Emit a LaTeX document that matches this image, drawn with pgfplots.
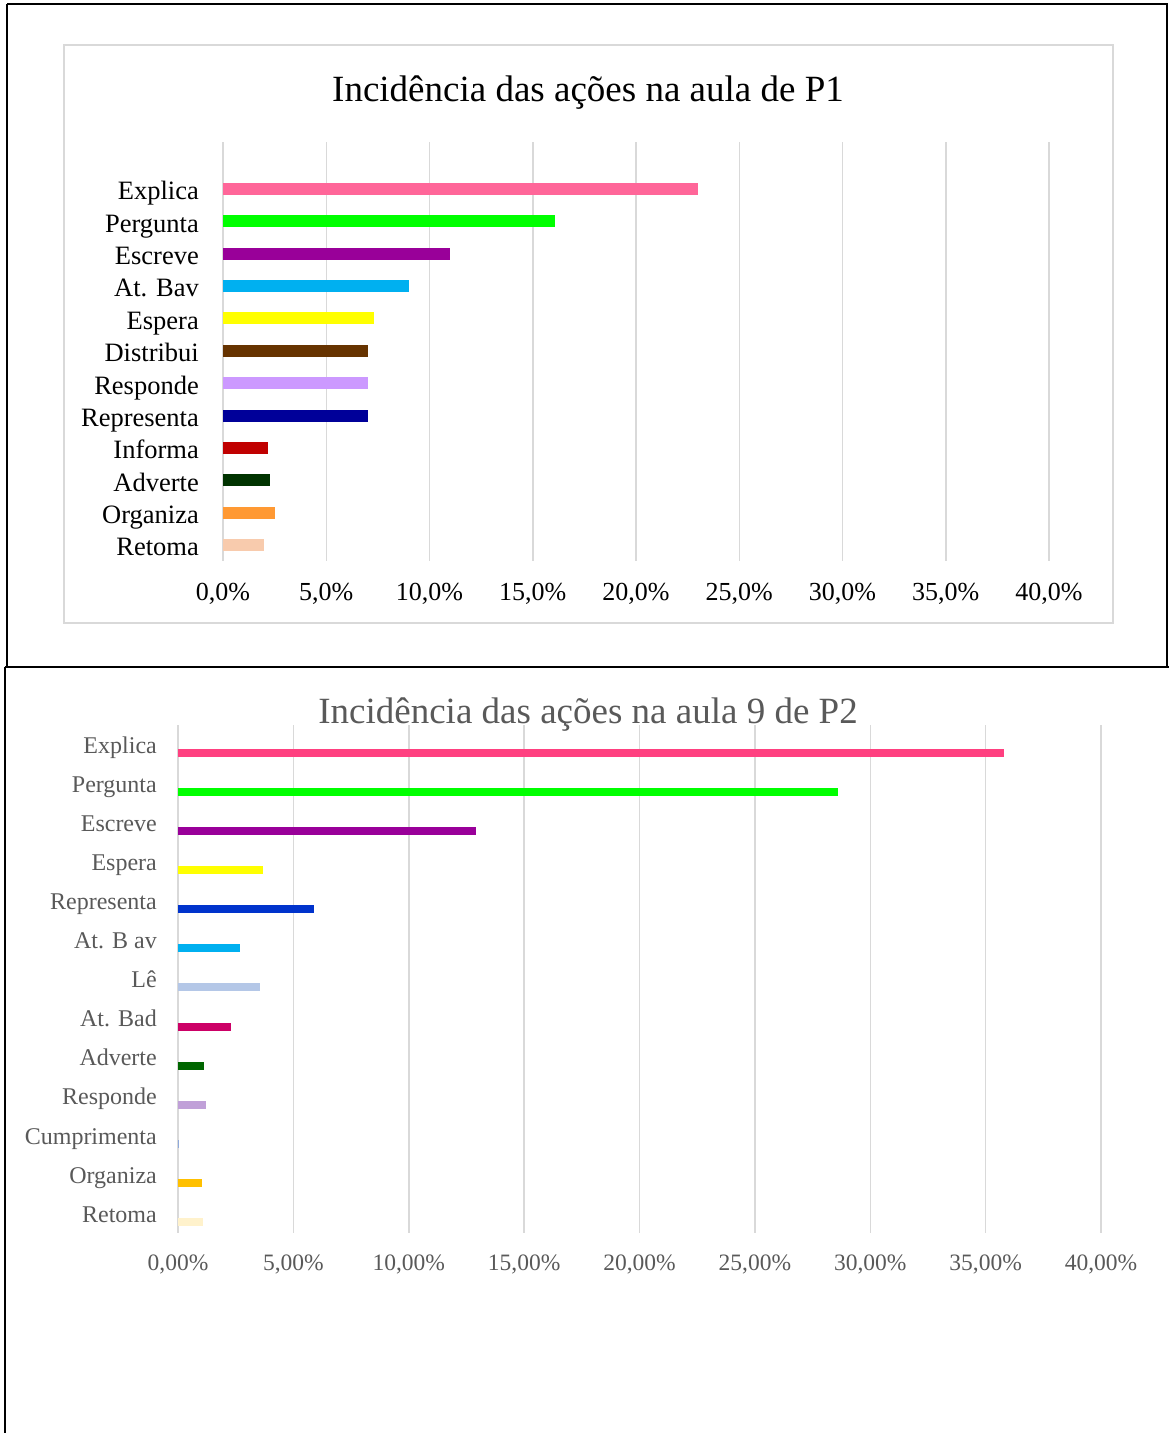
\documentclass[border=0pt]{standalone}
\usepackage{pgfplots}
\pgfplotsset{compat=1.18}
\usepackage{fontspec}
\setmainfont{Liberation Serif}
\newcommand\fs[1]{\fontsize{#1bp}{#1bp}\selectfont}
\definecolor{gridc}{HTML}{D9D9D9}
\definecolor{txtg}{HTML}{595959}
% top colours
\definecolor{t1}{HTML}{FF6699}
\definecolor{t2}{HTML}{00FF00}
\definecolor{t3}{HTML}{990099}
\definecolor{t4}{HTML}{00B0F0}
\definecolor{t5}{HTML}{FFFF00}
\definecolor{t6}{HTML}{663300}
\definecolor{t7}{HTML}{CC99FF}
\definecolor{t8}{HTML}{000099}
\definecolor{t9}{HTML}{C00000}
\definecolor{t10}{HTML}{003300}
\definecolor{t11}{HTML}{FF9933}
\definecolor{t12}{HTML}{F8CBAD}
% bottom colours
\definecolor{b1}{HTML}{FF4080}
\definecolor{b2}{HTML}{00FF00}
\definecolor{b3}{HTML}{990099}
\definecolor{b4}{HTML}{FFFF00}
\definecolor{b5}{HTML}{0033CC}
\definecolor{b6}{HTML}{00B0F0}
\definecolor{b7}{HTML}{B4C7E7}
\definecolor{b8}{HTML}{CC0066}
\definecolor{b9}{HTML}{006600}
\definecolor{b10}{HTML}{C0A0D8}
\definecolor{b11}{HTML}{8EA9DB}
\definecolor{b12}{HTML}{FFC000}
\definecolor{b13}{HTML}{FFF2CC}
\begin{document}
\begin{tikzpicture}
\path[use as bounding box] (0,0) rectangle (1169bp,1433bp);
% frames
\draw[line width=2.5bp] (7bp,1429bp) -- (1167bp,1429bp) -- (1167bp,766bp);
\draw[line width=2.5bp] (7bp,1429bp) -- (7bp,766bp);
\draw[line width=2.5bp] (5bp,766bp) -- (1169bp,766bp);
\draw[line width=2.5bp] (5bp,766bp) -- (5bp,0bp);
\draw[gridc, line width=1.5bp] (64bp,1388bp) rectangle (1113bp,810bp);
% titles
\node[anchor=base, inner sep=0pt] at (588bp,1331bp) {\fs{37}Incidência das ações na aula de P1};
\node[anchor=base, inner sep=0pt, text=txtg] at (588bp,709bp) {\fs{37}Incidência das ações na aula 9 de P2};

% ---------------- top chart
\begin{axis}[
  at={(223bp,872bp)}, anchor=south west,
  scale only axis, width=826bp, height=419bp,
  xmin=0, xmax=40, ymin=-0.49, ymax=12.45,
  xtick={0,5,...,40},
  xticklabels={{0,0\%},{5,0\%},{10,0\%},{15,0\%},{20,0\%},{25,0\%},{30,0\%},{35,0\%},{40,0\%}},
  ytick={0,...,11},
  yticklabels={Retoma,Organiza,Adverte,Informa,Representa,Responde,Distribui,Espera,{At. Bav},Escreve,Pergunta,Explica},
  xmajorgrids, grid style={gridc, line width=1.5bp},
  axis line style={draw=none}, major tick length=0pt,
  xticklabel style={font=\fs{26}, anchor=base, inner sep=0pt, yshift=-40bp},
  yticklabel style={font=\fs{26.5}, anchor=base east, inner sep=0pt, xshift=-24bp, yshift=-10.8bp},
  clip=false,
]
\addplot[xbar, fill=t1, draw=none, bar width=12bp, bar shift=0pt] coordinates {(23.0,11)};
\addplot[xbar, fill=t2, draw=none, bar width=12bp, bar shift=0pt] coordinates {(16.1,10)};
\addplot[xbar, fill=t3, draw=none, bar width=12bp, bar shift=0pt] coordinates {(11.0,9)};
\addplot[xbar, fill=t4, draw=none, bar width=12bp, bar shift=0pt] coordinates {(9.0,8)};
\addplot[xbar, fill=t5, draw=none, bar width=12bp, bar shift=0pt] coordinates {(7.3,7)};
\addplot[xbar, fill=t6, draw=none, bar width=12bp, bar shift=0pt] coordinates {(7.0,6)};
\addplot[xbar, fill=t7, draw=none, bar width=12bp, bar shift=0pt] coordinates {(7.0,5)};
\addplot[xbar, fill=t8, draw=none, bar width=12bp, bar shift=0pt] coordinates {(7.0,4)};
\addplot[xbar, fill=t9, draw=none, bar width=12bp, bar shift=0pt] coordinates {(2.2,3)};
\addplot[xbar, fill=t10, draw=none, bar width=12bp, bar shift=0pt] coordinates {(2.3,2)};
\addplot[xbar, fill=t11, draw=none, bar width=12bp, bar shift=0pt] coordinates {(2.5,1)};
\addplot[xbar, fill=t12, draw=none, bar width=12bp, bar shift=0pt] coordinates {(2.0,0)};
\end{axis}

% ---------------- bottom chart
\begin{axis}[
  at={(178bp,200bp)}, anchor=south west,
  scale only axis, width=923bp, height=508bp,
  xmin=0, xmax=40, ymin=-0.5, ymax=12.5,
  xtick={0,5,...,40},
  xticklabels={{0,00\%},{5,00\%},{10,00\%},{15,00\%},{20,00\%},{25,00\%},{30,00\%},{35,00\%},{40,00\%}},
  ytick={0,...,12},
  yticklabels={Retoma,Organiza,Cumprimenta,Responde,Adverte,{At. Bad},Lê,{At. B av},Representa,Espera,Escreve,Pergunta,Explica},
  xmajorgrids, grid style={gridc, line width=1.5bp},
  axis line style={draw=none}, major tick length=0pt,
  xticklabel style={font=\fs{23.5}, text=txtg, anchor=base, inner sep=0pt, yshift=-37.7bp},
  yticklabel style={font=\fs{24}, text=txtg, anchor=base east, inner sep=0pt, xshift=-21bp, yshift=-8.7bp},
  clip=false,
]
\addplot[xbar, fill=b1, draw=none, bar width=8bp, bar shift=-8.5bp] coordinates {(35.8,12)};
\addplot[xbar, fill=b2, draw=none, bar width=8bp, bar shift=-8.5bp] coordinates {(28.6,11)};
\addplot[xbar, fill=b3, draw=none, bar width=8bp, bar shift=-8.5bp] coordinates {(12.9,10)};
\addplot[xbar, fill=b4, draw=none, bar width=8bp, bar shift=-8.5bp] coordinates {(3.7,9)};
\addplot[xbar, fill=b5, draw=none, bar width=8bp, bar shift=-8.5bp] coordinates {(5.9,8)};
\addplot[xbar, fill=b6, draw=none, bar width=8bp, bar shift=-8.5bp] coordinates {(2.7,7)};
\addplot[xbar, fill=b7, draw=none, bar width=8bp, bar shift=-8.5bp] coordinates {(3.55,6)};
\addplot[xbar, fill=b8, draw=none, bar width=8bp, bar shift=-8.5bp] coordinates {(2.3,5)};
\addplot[xbar, fill=b9, draw=none, bar width=8bp, bar shift=-8.5bp] coordinates {(1.13,4)};
\addplot[xbar, fill=b10, draw=none, bar width=8bp, bar shift=-8.5bp] coordinates {(1.21,3)};
\addplot[xbar, fill=b11, draw=none, bar width=8bp, bar shift=-8.5bp] coordinates {(0.05,2)};
\addplot[xbar, fill=b12, draw=none, bar width=8bp, bar shift=-8.5bp] coordinates {(1.04,1)};
\addplot[xbar, fill=b13, draw=none, bar width=8bp, bar shift=-8.5bp] coordinates {(1.08,0)};
\end{axis}
\end{tikzpicture}
\end{document}
